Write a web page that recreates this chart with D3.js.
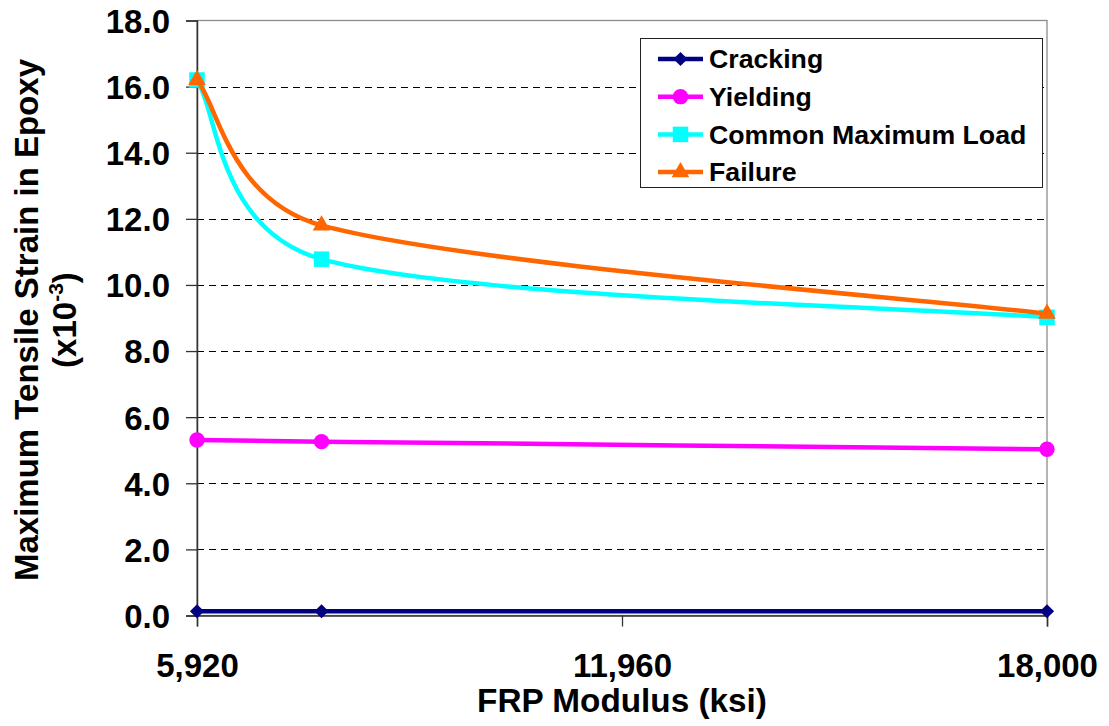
<!DOCTYPE html>
<html>
<head>
<meta charset="utf-8">
<script src="https://cdn.jsdelivr.net/npm/d3@7"></script>
<style>
  html, body { margin: 0; padding: 0; background: #fff; }
  text { font-family: "Liberation Sans", Arial, sans-serif; font-weight: bold; fill: #000; }
</style>
</head>
<body>
<svg id="chart" width="1109" height="726"></svg>
<script>
// FRP modulus (ksi) at which each stage was evaluated
const modulus = [5920, 7690, 18000];

// Maximum tensile strain in epoxy (x10^-3) per loading stage
const cracking = [0.13, 0.13, 0.13];
const yielding = [5.31, 5.26, 5.03];
const commonMaxLoad = [16.2, 10.78, 9.02];
const failure = [16.2, 11.8, 9.13];

const seriesNames = ["Cracking", "Yielding", "Common Maximum Load", "Failure"];
const seriesValues = [cracking, yielding, commonMaxLoad, failure];
const seriesColors = ["#000080", "#FF00FF", "#00FFFF", "#FF6600"];

const xTicks = [5920, 11960, 18000];
const yTicks = [0, 2, 4, 6, 8, 10, 12, 14, 16, 18];

const svg = d3.select("#chart");
const W = 1109, H = 726;
svg.append("rect").attr("width", W).attr("height", H).attr("fill", "#fff");

const plotLeft = 197, plotRight = 1047, plotTop = 20.5, plotBottom = 615.5;

const x = d3.scaleLinear().domain([5920, 18000]).range([plotLeft, plotRight]);
const y = d3.scaleLinear().domain([0, 18]).range([plotBottom, plotTop]);

// marker shapes: rotated square (diamond), circle, square, triangle
const markerShapes = [
  { type: d3.symbolSquare, size: 100, rotate: 45 },
  { type: d3.symbolCircle, size: 185, rotate: 0 },
  { type: d3.symbolSquare, size: 240, rotate: 0 },
  { type: d3.symbolTriangle, size: 135, rotate: 0 }
];

// plot area frame
svg.append("rect")
  .attr("x", plotLeft).attr("y", plotTop)
  .attr("width", plotRight - plotLeft).attr("height", plotBottom - plotTop)
  .attr("fill", "none").attr("stroke", "#8c8c8c").attr("stroke-width", 1.3);

// horizontal dashed gridlines
svg.append("g").selectAll("line")
  .data(yTicks.filter(v => v > 0 && v < 18))
  .join("line")
  .attr("x1", plotLeft).attr("x2", plotRight)
  .attr("y1", d => Math.round(y(d)) + 0.5).attr("y2", d => Math.round(y(d)) + 0.5)
  .attr("stroke", "#000").attr("stroke-width", 1)
  .attr("stroke-dasharray", "7,5");

const fontFamily = "Liberation Sans, Arial, sans-serif";

// y axis
const yAxis = svg.append("g")
  .attr("transform", `translate(${plotLeft},0)`)
  .call(d3.axisLeft(y).tickValues(yTicks).tickFormat(d3.format(".1f")).tickSize(11).tickPadding(16));
yAxis.select(".domain").attr("stroke", "#333").attr("stroke-width", 1.5);
yAxis.selectAll(".tick line").attr("stroke", "#333").attr("stroke-width", 1.3);
yAxis.selectAll(".tick text")
  .attr("font-size", 33).attr("font-family", fontFamily)
  .attr("font-weight", "bold").attr("fill", "#000").attr("dy", "0.36em");

// x axis
const xAxis = svg.append("g")
  .attr("transform", `translate(0,${plotBottom})`)
  .call(d3.axisBottom(x).tickValues(xTicks).tickFormat(d3.format(",")).tickSize(11).tickPadding(0));
xAxis.select(".domain").attr("stroke", "#333").attr("stroke-width", 1.5);
xAxis.selectAll(".tick line").attr("stroke", "#333").attr("stroke-width", 1.3);
xAxis.selectAll(".tick text")
  .attr("font-size", 33).attr("font-family", fontFamily)
  .attr("font-weight", "bold").attr("fill", "#000")
  .attr("y", 61.5).attr("dy", 0);

// axis titles
svg.append("text")
  .attr("x", (plotLeft + plotRight) / 2).attr("y", 712)
  .attr("text-anchor", "middle").attr("font-size", 33.3)
  .text("FRP Modulus (ksi)");

svg.append("text")
  .attr("transform", "translate(38,320) rotate(-90)")
  .attr("text-anchor", "middle").attr("font-size", 33)
  .text("Maximum Tensile Strain in Epoxy");
const line2 = svg.append("text")
  .attr("transform", "translate(76,320) rotate(-90)")
  .attr("text-anchor", "middle").attr("font-size", 33);
line2.append("tspan").text("(x10");
line2.append("tspan").attr("font-size", 21).attr("dy", -13).text("-3");
line2.append("tspan").attr("dy", 13).text(")");

// smoothed line: cubic Bezier segments whose handles follow the neighbouring
// points (1/6 of the chord between neighbours), capped at half the segment length
function smoothPath(pts) {
  const p = d3.path();
  p.moveTo(pts[0][0], pts[0][1]);
  const n = pts.length;
  const handle = (i, dir) => {
    const prev = pts[Math.max(i - 1, 0)], next = pts[Math.min(i + 1, n - 1)];
    let dx = (next[0] - prev[0]) / 6, dy = (next[1] - prev[1]) / 6;
    const nb = pts[i + dir];
    const segLen = Math.hypot(nb[0] - pts[i][0], nb[1] - pts[i][1]);
    const len = Math.hypot(dx, dy);
    if (len > segLen / 2 && len > 0) {
      const f = (segLen / 2) / len;
      dx *= f; dy *= f;
    }
    return [pts[i][0] + dir * dx, pts[i][1] + dir * dy];
  };
  for (let i = 0; i < n - 1; i++) {
    const c1 = handle(i, 1), c2 = handle(i + 1, -1);
    p.bezierCurveTo(c1[0], c1[1], c2[0], c2[1], pts[i + 1][0], pts[i + 1][1]);
  }
  return p.toString();
}

function markerPath(shape) {
  return d3.symbol().type(shape.type).size(shape.size)();
}

const seriesG = svg.append("g");
seriesValues.forEach((vals, s) => {
  const g = seriesG.append("g");
  const pts = vals.map((v, i) => [x(modulus[i]), y(v)]);
  g.append("path")
    .attr("d", smoothPath(pts))
    .attr("fill", "none")
    .attr("stroke", seriesColors[s])
    .attr("stroke-width", 4.5)
    .attr("stroke-linejoin", "round");
  g.selectAll("path.mark")
    .data(vals)
    .join("path")
    .attr("class", "mark")
    .attr("transform", (d, i) => `translate(${x(modulus[i])},${y(d)}) rotate(${markerShapes[s].rotate})`)
    .attr("d", markerPath(markerShapes[s]))
    .attr("fill", seriesColors[s]);
});

// legend
const legend = svg.append("g");
legend.append("rect")
  .attr("x", 640.5).attr("y", 38.5).attr("width", 402).attr("height", 149)
  .attr("fill", "#fff").attr("stroke", "#222").attr("stroke-width", 1);
seriesNames.forEach((name, s) => {
  const cy = 59 + s * 37.7;
  const row = legend.append("g").attr("transform", `translate(0,${cy})`);
  row.append("line").attr("x1", 658).attr("x2", 703).attr("y1", 0).attr("y2", 0)
    .attr("stroke", seriesColors[s]).attr("stroke-width", 4.5);
  row.append("path")
    .attr("transform", `translate(680.5,0) rotate(${markerShapes[s].rotate})`)
    .attr("d", markerPath(markerShapes[s]))
    .attr("fill", seriesColors[s]);
  row.append("text").attr("x", 709).attr("y", 0).attr("dy", "0.35em")
    .attr("font-size", 26.7).text(name);
});
</script>
</body>
</html>
